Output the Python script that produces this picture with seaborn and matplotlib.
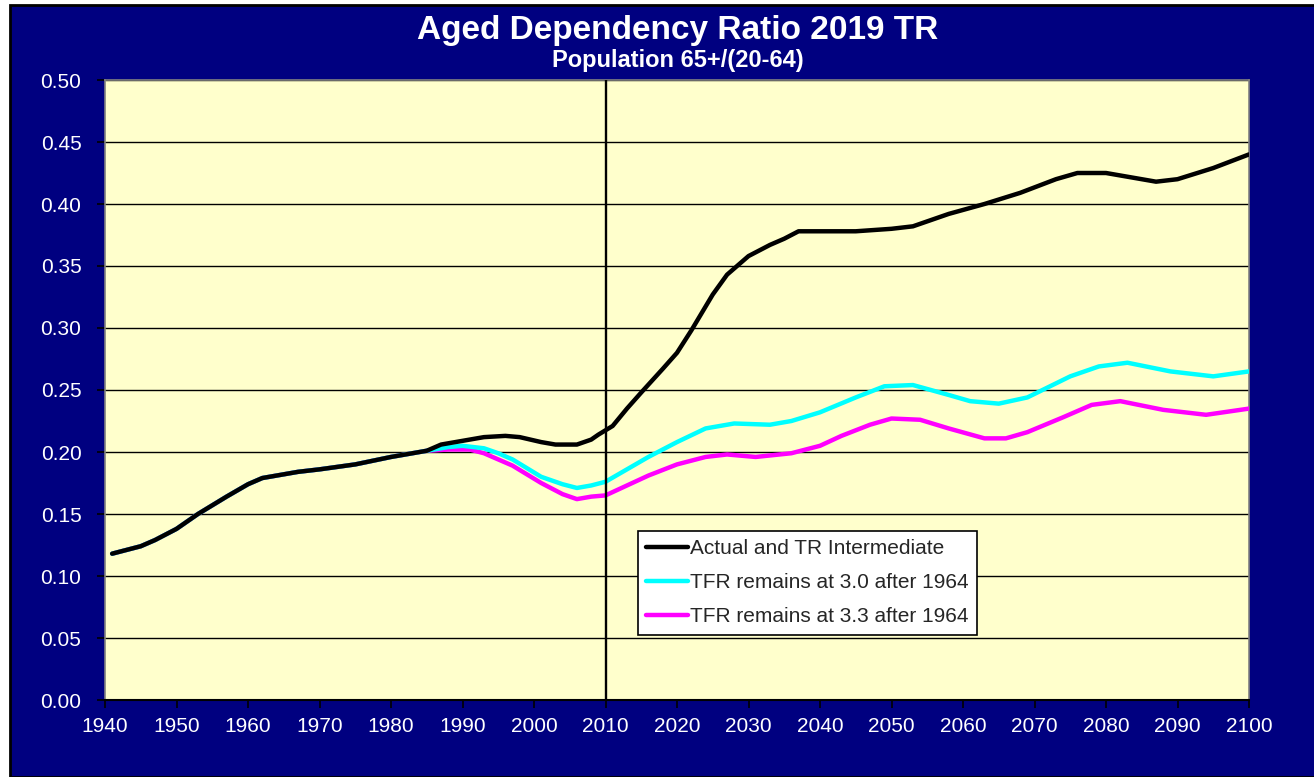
import numpy as np
import pandas as pd
import matplotlib
matplotlib.use("Agg")
import matplotlib.pyplot as plt
from matplotlib.patches import Rectangle
from matplotlib.ticker import MultipleLocator, FormatStrFormatter
import seaborn as sns

# ---------------- data ----------------
hist_years = [1941, 1943, 1945, 1947, 1950, 1953, 1955, 1957, 1960, 1962,
              1965, 1967, 1970, 1975, 1980]
hist_ratio = [0.118, 0.121, 0.124, 0.129, 0.138, 0.150, 0.157, 0.164, 0.174, 0.179,
              0.182, 0.184, 0.186, 0.190, 0.196]

actual_years = [1985, 1987, 1990, 1993, 1996, 1998, 2001, 2003, 2006, 2008,
                2009, 2011, 2013, 2015, 2018, 2020, 2022, 2025, 2027, 2030,
                2033, 2035, 2037, 2040, 2045, 2050, 2053, 2055, 2058, 2063,
                2068, 2073, 2076, 2080, 2083, 2087, 2090, 2095, 2100]
actual_ratio = [0.201, 0.206, 0.209, 0.212, 0.213, 0.212, 0.208, 0.206, 0.206, 0.210,
                0.214, 0.221, 0.235, 0.248, 0.267, 0.280, 0.298, 0.327, 0.343, 0.358,
                0.367, 0.372, 0.378, 0.378, 0.378, 0.380, 0.382, 0.386, 0.392, 0.400,
                0.409, 0.420, 0.425, 0.425, 0.422, 0.418, 0.420, 0.429, 0.440]

tfr30_years = [1985, 1988, 1990, 1993, 1995, 1997, 2001, 2004, 2006, 2008,
               2010, 2013, 2016, 2020, 2024, 2028, 2033, 2036, 2040, 2045,
               2049, 2053, 2058, 2061, 2065, 2069, 2075, 2079, 2083, 2089,
               2095, 2100]
tfr30_ratio = [0.201, 0.204, 0.205, 0.203, 0.199, 0.194, 0.180, 0.174, 0.171, 0.173,
               0.176, 0.186, 0.196, 0.208, 0.219, 0.223, 0.222, 0.225, 0.232, 0.244,
               0.253, 0.254, 0.246, 0.241, 0.239, 0.244, 0.261, 0.269, 0.272, 0.265,
               0.261, 0.265]

tfr33_years = [1985, 1988, 1991, 1993, 1995, 1997, 2001, 2004, 2006, 2008,
               2010, 2013, 2016, 2020, 2024, 2027, 2031, 2036, 2040, 2043,
               2047, 2050, 2054, 2058, 2063, 2066, 2069, 2074, 2078, 2082,
               2088, 2094, 2100]
tfr33_ratio = [0.201, 0.202, 0.202, 0.199, 0.194, 0.189, 0.175, 0.166, 0.162, 0.164,
               0.165, 0.173, 0.181, 0.190, 0.196, 0.198, 0.196, 0.199, 0.205, 0.213,
               0.222, 0.227, 0.226, 0.219, 0.211, 0.211, 0.216, 0.228, 0.238, 0.241,
               0.234, 0.230, 0.235]

series_names = ["Actual and TR Intermediate",
                "TFR remains at 3.0 after 1964",
                "TFR remains at 3.3 after 1964"]
series_colors = ["#000000", "#00FFFF", "#FF00FF"]

title = "Aged Dependency Ratio 2019 TR"
subtitle = "Population 65+/(20-64)"
marker_year = 2010

frames = []
for name, yrs, vals in [(series_names[0], actual_years, actual_ratio),
                        (series_names[1], tfr30_years, tfr30_ratio),
                        (series_names[2], tfr33_years, tfr33_ratio)]:
    frames.append(pd.DataFrame({"year": hist_years + yrs,
                                "ratio": hist_ratio + vals,
                                "series": name}))
df = pd.concat(frames, ignore_index=True)

# ---------------- style ----------------
sns.set_style("white")
plt.rcParams["font.family"] = ["Liberation Sans", "DejaVu Sans"]

NAVY = "#000080"
PLOT_BG = "#FFFFCC"

fig = plt.figure(figsize=(13.14, 7.77), dpi=100)
fig.patch.set_facecolor("white")
fig.patches.append(Rectangle((10 / 1314, 0), 1 - 10 / 1314 + 0.01, 1 - 5 / 777,
                             transform=fig.transFigure, facecolor=NAVY,
                             edgecolor="black", linewidth=2, zorder=-10))

ax = fig.add_axes([105 / 1314, 1 - 700 / 777, 1144 / 1314, 620 / 777])
ax.set_facecolor(PLOT_BG)

# draw in reverse so black is on top
for name, col in list(zip(series_names, series_colors))[::-1]:
    sub = df[df["series"] == name]
    sns.lineplot(data=sub, x="year", y="ratio", ax=ax, color=col, linewidth=3.2,
                 estimator=None, sort=True, label=name, zorder=3,
                 solid_joinstyle="round", solid_capstyle="round")

ax.axvline(marker_year, color="black", linewidth=1.7, zorder=4)

ax.set_xlim(1940, 2100)
ax.set_ylim(0, 0.5)
ax.xaxis.set_major_locator(MultipleLocator(10))
ax.xaxis.set_minor_locator(MultipleLocator(1))
ax.yaxis.set_major_locator(MultipleLocator(0.05))
ax.yaxis.set_major_formatter(FormatStrFormatter("%.2f"))

ax.grid(axis="y", color="black", linewidth=1.0, zorder=1)
ax.grid(axis="x", visible=False)
ax.set_axisbelow(True)

ax.tick_params(axis="both", which="major", labelsize=15, labelcolor="white",
               color="black", direction="out", length=6, width=1.2)
ax.tick_params(axis="x", which="minor", color="black", direction="out",
               length=4, width=1)
ax.tick_params(axis="x", which="major", pad=6, bottom=True)
ax.tick_params(axis="y", which="major", pad=11, left=True)

for side in ["top", "right", "left"]:
    ax.spines[side].set_color("#808080")
    ax.spines[side].set_linewidth(1.2)
ax.spines["bottom"].set_color("black")
ax.spines["bottom"].set_linewidth(1.5)

ax.set_xlabel("")
ax.set_ylabel("")

# legend (reorder to black, cyan, magenta)
handles, labels = ax.get_legend_handles_labels()
order = [labels.index(n) for n in series_names]
leg = ax.legend([handles[i] for i in order], [labels[i] for i in order],
                loc="upper left", bbox_to_anchor=(0.466, 0.2726),
                borderaxespad=0, fontsize=15, frameon=True, fancybox=False,
                framealpha=1, facecolor="white", edgecolor="black",
                handlelength=2.0, handletextpad=0.1, labelspacing=0.72,
                borderpad=0.4)
leg.get_frame().set_linewidth(1.2)
leg.set_zorder(10)

fig.text(0.516, 1 - 30 / 777, title, ha="center", va="center", color="white",
         fontsize=24, fontweight="bold")
fig.text(0.516, 1 - 60 / 777, subtitle, ha="center", va="center", color="white",
         fontsize=17, fontweight="bold")

fig.savefig("out.png", dpi=100, facecolor=fig.get_facecolor())
